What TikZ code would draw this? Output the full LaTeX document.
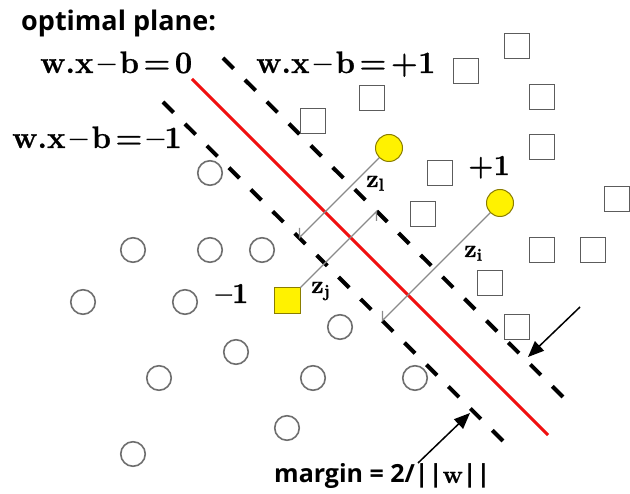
\documentclass[tikz,border=0pt]{standalone}
\usepackage{fontspec}
\setsansfont{Open Sans}
\newfontfamily\eqfont{Latin Modern Roman}[BoldFeatures={FakeBold=0.7}]
\usetikzlibrary{arrows.meta}
\definecolor{ringgray}{HTML}{6E6E6E}
\definecolor{boxgray}{HTML}{5C5C5C}
\definecolor{svedge}{HTML}{8A7D00}
\definecolor{perpgray}{HTML}{8A8A8A}
\definecolor{hypred}{HTML}{F01010}
\newcommand{\gp}{\hspace{0.14em}}
\begin{document}
\begin{tikzpicture}[x=1pt,y=-1pt,
 negpt/.style={circle,draw=ringgray,line width=1.6pt,minimum size=24.5pt,inner sep=0pt},
 pospt/.style={rectangle,draw=boxgray,line width=1.6pt,minimum size=25pt,inner sep=0pt},
 svcirc/.style={circle,fill=yellow,draw=svedge,line width=1pt,minimum size=27pt,inner sep=0pt},
 svbox/.style={rectangle,fill=yellow,draw=svedge,line width=1pt,minimum size=26pt,inner sep=0pt},
 hyper/.style={draw=hypred,line width=3pt},
 marginline/.style={draw=black,line width=4pt,dash pattern=on 15pt off 16pt},
 perp/.style={draw=perpgray,line width=1.3pt},
 eqtext/.style={font=\eqfont\fontsize{31}{38}\selectfont\bfseries,inner sep=0pt,anchor=base west},
 lbl/.style={font=\eqfont\fontsize{29}{36}\selectfont\bfseries,inner sep=0pt,anchor=base},
 zlbl/.style={font=\eqfont\fontsize{25}{30}\selectfont\bfseries,inner sep=0pt,anchor=base west},
 head/.style={font=\sffamily\bfseries\fontsize{27}{32}\selectfont,inner sep=0pt,anchor=base west},
 pointer/.style={draw=black,line width=1.5pt,-{Triangle[length=16pt,width=13pt]}}
]
\useasboundingbox (0,0) rectangle (630,494);

% hyperplanes
\coordinate (h0a) at (192,79);   \coordinate (h0b) at (548,435);
\coordinate (hpa) at (223,58);   \coordinate (hpb) at (573,407);
\coordinate (hma) at (163,102);  \coordinate (hmb) at (510,448);
\draw[marginline] (hpa) -- (hpb);
\draw[marginline] (hma) -- (hmb);
\draw[hyper] (h0a) -- (h0b);

% positive class (squares)
\node[pospt] (s1) at (517,46) {};
\node[pospt] (s2) at (466,71) {};
\node[pospt] (s3) at (372,98) {};
\node[pospt] (s4) at (313,121) {};
\node[pospt] (s5) at (542,97) {};
\node[pospt] (s6) at (542,147) {};
\node[pospt] (s7) at (440,173) {};
\node[pospt] (s8) at (423,214) {};
\node[pospt] (s9) at (617,199) {};
\node[pospt] (s10) at (542,250) {};
\node[pospt] (s11) at (593,250) {};
\node[pospt] (s12) at (490,283) {};
\node[pospt] (s13) at (517,327) {};

% negative class (circles)
\node[negpt] (c1) at (210,173) {};
\node[negpt] (c2) at (133,250) {};
\node[negpt] (c3) at (210,250) {};
\node[negpt] (c4) at (262,250) {};
\node[negpt] (c5) at (83,302) {};
\node[negpt] (c6) at (185,302) {};
\node[negpt] (c7) at (340,327) {};
\node[negpt] (c8) at (236,352) {};
\node[negpt] (c9) at (159,378) {};
\node[negpt] (c10) at (313,378) {};
\node[negpt] (c11) at (415,378) {};
\node[negpt] (c12) at (287,428) {};
\node[negpt] (c13) at (133,454) {};

% highlighted points
\node[svcirc] (pl) at (389,148) {};
\node[svcirc] (pi) at (500,203) {};
\node[svbox] (pj) at (287,301) {};

% perpendicular distances
\coordinate (el) at (299.5,237.5);
\coordinate (ej) at (376.5,211.5);
\coordinate (ei) at (382.5,320.5);
\coordinate (tl) at (299.5,228);
\coordinate (tj) at (376.5,221);
\coordinate (ti) at (382.5,311);
\draw[perp] (pl) -- (el) -- (tl);
\draw[perp] (pj) -- (ej) -- (tj);
\draw[perp] (pi) -- (ei) -- (ti);

% labels
\node[zlbl] (zl) at (366,187) {z\textsubscript{l}};
\node[zlbl] (zi) at (464,257) {z\textsubscript{i}};
\node[zlbl] (zj) at (311,293) {z\textsubscript{j}};
\node[lbl] (plus) at (489,175) {+1};
\node[lbl] (minus) at (232,303) {\textendash1};

\node[head] (title) at (21,31) {optimal plane:};
\node[eqtext] (eq0) at (40,73) {w.x\gp\textendash\gp b\gp=\gp 0};
\node[eqtext] (eqp) at (256,73) {w.x\gp\textendash\gp b\gp=\gp+1};
\node[eqtext] (eqm) at (12,148) {w.x\gp\textendash\gp b\gp=\gp\textendash1};

% margin arrows
\coordinate (a1s) at (580,307); \coordinate (a1e) at (528,357);
\coordinate (a2s) at (418,463); \coordinate (a2e) at (470,413);
\draw[pointer] (a1s) -- (a1e);
\draw[pointer] (a2s) -- (a2e);
\node[head,font=\sffamily\bfseries\fontsize{25}{30}\selectfont] (margin) at (274,483) {margin = 2/||{\eqfont\bfseries w}||};
\end{tikzpicture}
\end{document}
